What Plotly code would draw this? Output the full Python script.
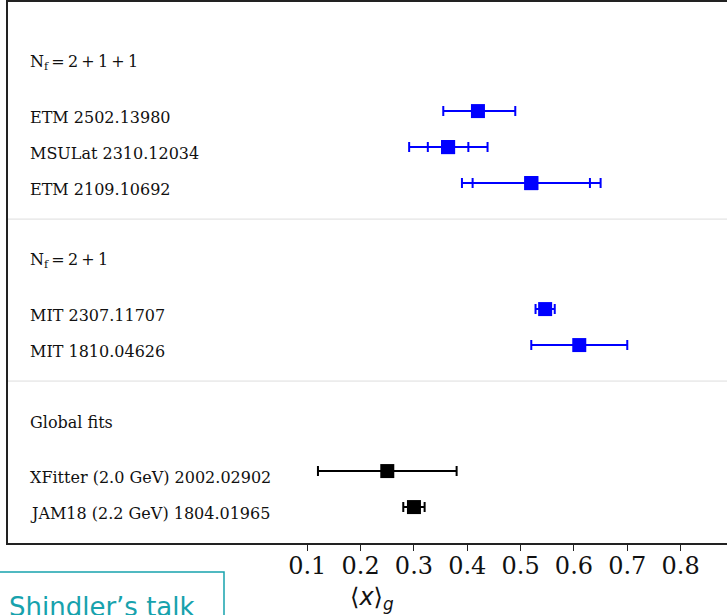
import plotly.graph_objects as go

# ---------------- data ----------------
group_headers = [
    "N<sub>f</sub>\u2009=\u20092\u2009+\u20091\u2009+\u20091",
    "N<sub>f</sub>\u2009=\u20092\u2009+\u20091",
    "Global fits",
]
labels = [
    "ETM 2502.13980",
    "MSULat 2310.12034",
    "ETM 2109.10692",
    "MIT 2307.11707",
    "MIT 1810.04626",
    "XFitter (2.0 GeV) 2002.02902",
    "JAM18 (2.2 GeV) 1804.01965",
]
group_of = [0, 0, 0, 1, 1, 2, 2]
values = [0.42, 0.364, 0.52, 0.546, 0.61, 0.25, 0.30]
err_minus_total = [0.065, 0.073, 0.13, 0.018, 0.09, 0.13, 0.02]
err_plus_total = [0.07, 0.074, 0.13, 0.018, 0.09, 0.13, 0.02]
err_stat = [None, 0.038, 0.11, None, None, None, None]
point_colors = ["#0000ff"] * 5 + ["#000000"] * 2
tick_vals = [0.1, 0.2, 0.3, 0.4, 0.5, 0.6, 0.7, 0.8]
tick_text = ["0.1", "0.2", "0.3", "0.4", "0.5", "0.6", "0.7", "0.8"]
x_title = "⟨<i>x</i>⟩<sub><i>g</i></sub>"
note_text = "Shindler’s talk"

# ---------------- row layout (y in row units, top-down) ----------------
header_y = []
row_y = []
sep_y = []
y = 1.69
for g in range(len(group_headers)):
    header_y.append(y)
    members = [i for i, gg in enumerate(group_of) if gg == g]
    yy = y + 1.34
    for i in members:
        row_y.append(yy)
        yy += 1.0
    if g < len(group_headers) - 1:
        sep_y.append(yy)
        y = yy + 1.16

fig = go.Figure()

for i in range(len(values)):
    c = point_colors[i]
    # total error bar
    fig.add_trace(go.Scatter(
        x=[values[i]], y=[row_y[i]], mode="markers",
        marker=dict(symbol="square", size=14, color=c),
        error_x=dict(type="data", symmetric=False,
                     array=[err_plus_total[i]], arrayminus=[err_minus_total[i]],
                     color=c, thickness=2, width=5),
        showlegend=False, hoverinfo="skip"))
    if err_stat[i] is not None:
        fig.add_trace(go.Scatter(
            x=[values[i]], y=[row_y[i]], mode="markers",
            marker=dict(symbol="square", size=14, color=c),
            error_x=dict(type="data", array=[err_stat[i]],
                         color=c, thickness=2, width=5),
            showlegend=False, hoverinfo="skip"))

label_font = dict(family="DejaVu Serif", size=16, color="#111111")
label_x = (28 - 8) / 719
annotations = []
for g, hy in enumerate(header_y):
    annotations.append(dict(x=label_x, xref="paper", y=hy, yref="y",
                            text=group_headers[g], showarrow=False,
                            xanchor="left", yanchor="middle", font=label_font))
for i, ry in enumerate(row_y):
    annotations.append(dict(x=label_x, xref="paper", y=ry, yref="y",
                            text=labels[i], showarrow=False, yshift=-6,
                            xanchor="left", yanchor="middle", font=label_font))

# axis title
annotations.append(dict(x=(372 - 8) / 719, xref="paper", y=(543 - 598) / 541, yref="paper",
                        text=x_title, showarrow=False, xanchor="center", yanchor="middle",
                        font=dict(family="DejaVu Sans", size=24, color="#111111")))
# note box text
teal = "#17a2ad"
annotations.append(dict(x=(7 - 8) / 719, xref="paper", y=(543 - 607) / 541, yref="paper",
                        text=note_text, showarrow=False, xanchor="left", yanchor="middle",
                        font=dict(family="DejaVu Sans", size=26, color=teal)))

shapes = []
for sy in sep_y:
    shapes.append(dict(type="line", xref="paper", x0=0, x1=1, yref="y", y0=sy, y1=sy,
                       line=dict(color="#dddddd", width=1), layer="below"))
shapes.append(dict(type="rect", xref="paper", x0=-0.02, x1=(224 - 8) / 719,
                   yref="paper", y0=(543 - 572) / 541, y1=-0.2,
                   line=dict(color=teal, width=1.5), fillcolor="rgba(0,0,0,0)"))

fig.update_layout(
    width=727, height=615,
    margin=dict(l=8, r=0, t=2, b=72),
    paper_bgcolor="white", plot_bgcolor="white",
    annotations=annotations, shapes=shapes,
    showlegend=False,
)
fig.update_xaxes(
    range=[-0.4612, 0.887], showgrid=False, zeroline=False,
    tickvals=tick_vals, ticktext=tick_text, ticks="outside", ticklen=6, tickwidth=1,
    tickcolor="#222222", ticklabelstandoff=-6,
    tickfont=dict(family="DejaVu Serif", size=24, color="#111111"),
    showline=True, mirror=True, linecolor="#222222", linewidth=1.5,
)
fig.update_yaxes(
    range=[15.028, 0], autorange=False, showgrid=False, zeroline=False,
    showticklabels=False, ticks="", showline=True, mirror=False,
    linecolor="#222222", linewidth=1.5,
)

fig.write_html("out.html")
